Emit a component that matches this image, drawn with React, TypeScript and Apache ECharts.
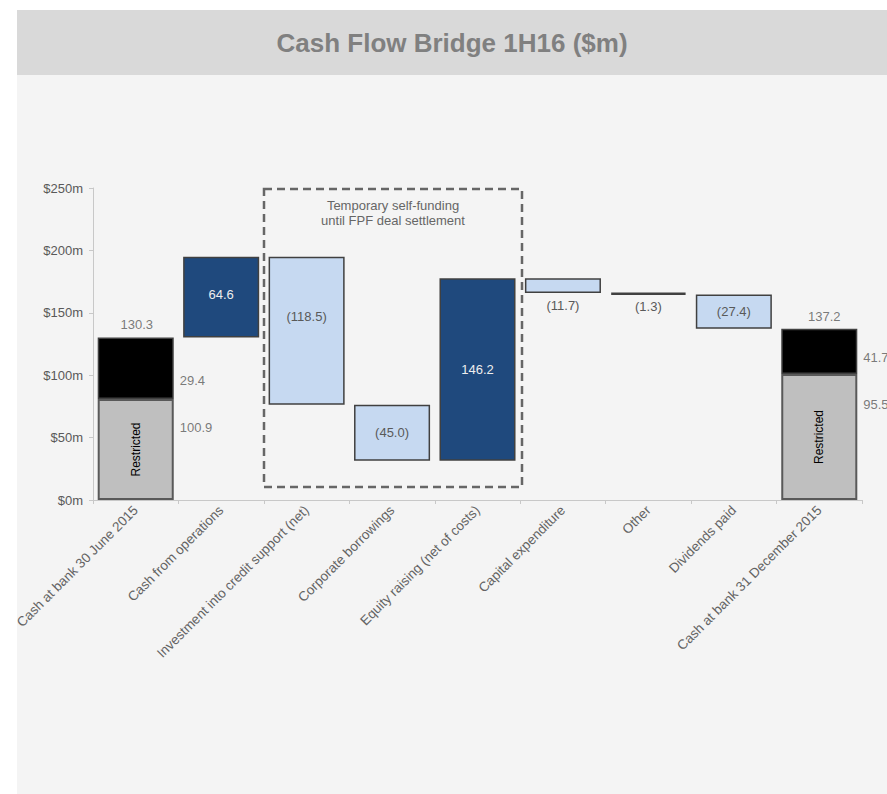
import React, { useEffect, useRef } from "react";
import * as echarts from "echarts";

const categories = [
  "Cash at bank 30 June 2015",
  "Cash from operations",
  "Investment into credit support (net)",
  "Corporate borrowings",
  "Equity raising (net of costs)",
  "Capital expenditure",
  "Other",
  "Dividends paid",
  "Cash at bank 31 December 2015",
];
const openingTotal = 130.3;
const closingTotal = 137.2;
const movements = [64.6, -118.5, -45.0, 146.2, -11.7, -1.3, -27.4];
// split of the two balances as drawn (grey = restricted, black = other)
const restrictedDrawn = [81.0, 101.0];
const unrestrictedDrawn = [49.3, 36.2];
const openingSplitLabels = ["29.4", "100.9"];
const closingSplitLabels = ["41.7", "95.5"];
const yTicks = [0, 50, 100, 150, 200, 250];
const titleText = "Cash Flow Bridge 1H16 ($m)";
const boxNote = "Temporary self-funding\nuntil FPF deal settlement";

const FONT = '"Liberation Sans", Arial, Helvetica, sans-serif';
const NAVY = "#1F497D";
const LIGHT = "#C6D9F1";
const BORDER = "#404040";
const TXT = "#595959";

export default function App() {
  const ref = useRef<HTMLDivElement>(null);
  useEffect(() => {
    document.body.style.margin = "0";
    if (!ref.current) return;
    const chart = echarts.init(ref.current, undefined, { renderer: "svg" });

    const n = categories.length;
    const running: number[] = [openingTotal];
    movements.forEach((m, i) => running.push(+(running[i] + m).toFixed(1)));
    const last = n - 1;

    const helper: any[] = [0];
    const up: any[] = ["-"];
    const down: any[] = ["-"];
    movements.forEach((m, i) => {
      helper.push(Math.min(running[i], running[i + 1]));
      const fmt = m < 0 ? `(${Math.abs(m).toFixed(1)})` : m.toFixed(1);
      let label: any = { show: true, position: "inside", formatter: fmt };
      if (m > 0) {
        label.color = "#EEEEEE";
        if (i === 0) label.offset = [0, -3];
        up.push({ value: m, label });
        down.push("-");
      } else {
        if (Math.abs(m) < 15) {
          label = { ...label, position: "bottom", distance: 6 };
        }
        if (i === 1) label.offset = [0, -14];
        label.color = TXT;
        const item: any = { value: -m, label };
        if (Math.abs(m) < 5) {
          item.itemStyle = { color: BORDER, borderColor: BORDER, borderWidth: 2.5 };
          item.label.distance = 5;
        }
        down.push(item);
        up.push("-");
      }
    });
    helper.push(0);
    up.push("-");
    down.push("-");

    const grey: any[] = Array(n).fill("-");
    const black: any[] = Array(n).fill("-");
    grey[0] = restrictedDrawn[0];
    grey[last] = restrictedDrawn[1];
    black[0] = unrestrictedDrawn[0];
    black[last] = unrestrictedDrawn[1];

    const sideLabel = (x: number, y: number, text: string, dy: number) => ({
      value: [x, y],
      label: {
        show: true,
        position: "right",
        distance: 44,
        offset: [0, dy],
        formatter: text,
      },
    });
    const topLabel = (x: number, y: number, text: string, dx: number) => ({
      value: [x, y],
      label: {
        show: true,
        position: "top",
        distance: 6,
        offset: [dx, 0],
        formatter: text,
      },
    });
    const annotations = [
      topLabel(0, openingTotal, openingTotal.toFixed(1), 1),
      topLabel(last, closingTotal, closingTotal.toFixed(1), 5),
      sideLabel(0, restrictedDrawn[0] + unrestrictedDrawn[0] / 2, openingSplitLabels[0], 12),
      sideLabel(0, restrictedDrawn[0] / 2, openingSplitLabels[1], -22),
      sideLabel(last, restrictedDrawn[1] + unrestrictedDrawn[1] / 2, closingSplitLabels[0], 6),
      sideLabel(last, restrictedDrawn[1] / 2, closingSplitLabels[1], -32),
    ];

    const barBase = {
      type: "bar",
      stack: "w",
      barCategoryGap: "11%",
    };

    const option: any = {
      animation: false,
      backgroundColor: "#ffffff",
      textStyle: { fontFamily: FONT },
      grid: {
        left: 93,
        right: 25,
        top: 188,
        bottom: 294,
        containLabel: false,
        outerBoundsMode: "none",
      },
      xAxis: {
        type: "category",
        data: categories,
        boundaryGap: true,
        axisLine: { lineStyle: { color: "#C8C8C8", width: 1 } },
        axisTick: { show: true, length: 4, lineStyle: { color: "#C8C8C8" } },
        axisLabel: {
          interval: 0,
          rotate: 45,
          margin: 8,
          color: "#636363",
          fontSize: 13.5,
          fontFamily: FONT,
        },
        splitLine: { show: false },
      },
      yAxis: {
        type: "value",
        min: yTicks[0],
        max: yTicks[yTicks.length - 1],
        interval: yTicks[1] - yTicks[0],
        axisLine: { show: true, lineStyle: { color: "#C8C8C8", width: 1 } },
        axisTick: { show: true, length: 4, lineStyle: { color: "#C8C8C8" } },
        splitLine: { show: false },
        axisLabel: {
          margin: 10,
          color: TXT,
          fontSize: 13,
          fontFamily: FONT,
          formatter: (v: number) => `$${v}m`,
        },
      },
      graphic: [
        {
          type: "rect",
          z: 0,
          silent: true,
          shape: { x: 17, y: 10, width: 870, height: 65 },
          style: { fill: "#D9D9D9" },
        },
        {
          type: "rect",
          z: 0,
          silent: true,
          shape: { x: 17, y: 75, width: 870, height: 719 },
          style: { fill: "#F4F4F4" },
        },
        {
          type: "text",
          z: 1,
          x: 452,
          y: 43,
          style: {
            text: titleText,
            fill: "#808080",
            font: `bold 26px ${FONT}`,
            align: "center",
            verticalAlign: "middle",
          },
        },
        {
          type: "rect",
          z: 1,
          silent: true,
          shape: { x: 264, y: 189, width: 258, height: 298 },
          style: {
            fill: "none",
            stroke: "#666666",
            lineWidth: 2.5,
            lineDash: [8, 5],
          },
        },
        {
          type: "text",
          z: 1,
          x: 393,
          y: 213,
          style: {
            text: boxNote,
            fill: "#666666",
            font: `13px ${FONT}`,
            align: "center",
            verticalAlign: "middle",
            lineHeight: 15,
          },
        },
      ],
      series: [
        {
          ...barBase,
          name: "base",
          data: helper,
          itemStyle: { color: "transparent", borderWidth: 0 },
          silent: true,
        },
        {
          ...barBase,
          name: "Restricted",
          data: grey,
          itemStyle: { color: "#BFBFBF", borderColor: "#595959", borderWidth: 2 },
          label: {
            show: true,
            position: "inside",
            rotate: 90,
            formatter: "Restricted",
            color: "#000000",
            fontSize: 12,
            fontFamily: FONT,
          },
        },
        {
          ...barBase,
          name: "Unrestricted",
          data: black,
          itemStyle: { color: "#000000", borderColor: "#404040", borderWidth: 1.5 },
        },
        {
          ...barBase,
          name: "Increase",
          data: up,
          itemStyle: { color: NAVY, borderColor: BORDER, borderWidth: 1.5 },
          label: { fontSize: 13, fontFamily: FONT },
        },
        {
          ...barBase,
          name: "Decrease",
          data: down,
          itemStyle: { color: LIGHT, borderColor: BORDER, borderWidth: 1.5 },
          label: { fontSize: 13, fontFamily: FONT },
        },
        {
          type: "scatter",
          name: "labels",
          symbolSize: 0,
          silent: true,
          data: annotations,
          label: { color: TXT, fontSize: 13, fontFamily: FONT },
          z: 5,
        },
      ],
    };
    chart.setOption(option);
    return () => chart.dispose();
  }, []);
  return <div ref={ref} style={{ width: 887, height: 794 }} />;
}
